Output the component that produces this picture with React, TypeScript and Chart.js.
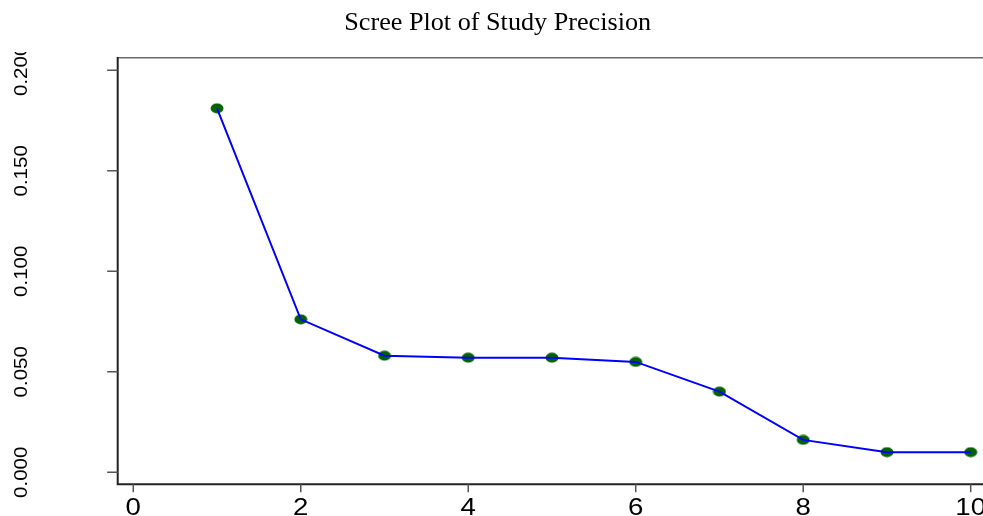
import React, { useEffect, useRef } from "react";
import { Chart, registerables } from "chart.js";

Chart.register(...registerables);

const titleText = "Scree Plot of Study Precision";
const components = [1, 2, 3, 4, 5, 6, 7, 8, 9, 10];
const precisionValues = [0.1811, 0.0761, 0.058, 0.057, 0.057, 0.0549, 0.0401, 0.0161, 0.01, 0.01];
const xTicks = [0, 2, 4, 6, 8, 10];
const xTickLabels = ["0", "2", "4", "6", "8", "10"];
const yTicks = [0, 0.05, 0.1, 0.15, 0.2];
const yTickLabels = ["0.000", "0.050", "0.100", "0.150", "0.200"];

function makeMarker(): HTMLCanvasElement {
  const c = document.createElement("canvas");
  c.width = 14;
  c.height = 11;
  const g = c.getContext("2d")!;
  g.fillStyle = "#006400";
  g.beginPath();
  g.ellipse(7, 5.5, 6.4, 5, 0, 0, Math.PI * 2);
  g.fill();
  return c;
}

const axesPlugin = {
  id: "statalikeAxes",
  afterDraw(chart: any) {
    const { ctx, chartArea, scales } = chart;
    const xs = scales.x;
    const ys = scales.y;
    ctx.save();
    // top border
    ctx.strokeStyle = "#6a6a6a";
    ctx.lineWidth = 1.5;
    ctx.beginPath();
    ctx.moveTo(chartArea.left, chartArea.top);
    ctx.lineTo(chart.width, chartArea.top);
    ctx.stroke();
    // left & bottom axes
    ctx.strokeStyle = "#222222";
    ctx.lineWidth = 2;
    ctx.beginPath();
    ctx.moveTo(chartArea.left, chartArea.top - 0.75);
    ctx.lineTo(chartArea.left, chartArea.bottom);
    ctx.lineTo(chart.width, chartArea.bottom);
    ctx.stroke();
    // ticks
    ctx.strokeStyle = "#555555";
    ctx.lineWidth = 1.5;
    ctx.beginPath();
    yTicks.forEach((v) => {
      const py = ys.getPixelForValue(v);
      ctx.moveTo(chartArea.left - 10.5, py);
      ctx.lineTo(chartArea.left, py);
    });
    xTicks.forEach((v) => {
      const px = xs.getPixelForValue(v);
      ctx.moveTo(px, chartArea.bottom);
      ctx.lineTo(px, chartArea.bottom + 8);
    });
    ctx.stroke();
    // y labels (rotated)
    ctx.save();
    ctx.beginPath();
    ctx.rect(0, 52, chartArea.left - 12, chart.height - 52);
    ctx.clip();
    ctx.fillStyle = "#000000";
    ctx.font = "19px 'Liberation Sans', Arial, sans-serif";
    ctx.textAlign = "center";
    ctx.textBaseline = "alphabetic";
    yTicks.forEach((v, i) => {
      const py = ys.getPixelForValue(v);
      ctx.save();
      ctx.translate(26.7, py);
      ctx.rotate(-Math.PI / 2);
      ctx.scale(1.08, 1);
      ctx.fillText(yTickLabels[i], 0, 0);
      ctx.restore();
    });
    ctx.restore();
    // x labels
    ctx.fillStyle = "#000000";
    ctx.font = "23px 'Liberation Sans', Arial, sans-serif";
    ctx.textAlign = "center";
    ctx.textBaseline = "alphabetic";
    xTicks.forEach((v, i) => {
      const px = xs.getPixelForValue(v);
      ctx.save();
      ctx.translate(px, 515);
      ctx.scale(1.2, 1);
      ctx.fillText(xTickLabels[i], 0, 0);
      ctx.restore();
    });
    // title
    ctx.font = "26.2px 'Liberation Serif', 'Times New Roman', serif";
    ctx.textAlign = "center";
    ctx.fillText(titleText, 497.7, 29.5);
    ctx.restore();
  },
};

export default function App() {
  const canvasRef = useRef<HTMLCanvasElement | null>(null);

  useEffect(() => {
    if (!canvasRef.current) return;
    const points = components.map((c, i) => ({ x: c, y: precisionValues[i] }));
    const marker = makeMarker();
    const chart = new Chart(canvasRef.current, {
      type: "scatter",
      data: {
        datasets: [
          {
            data: points,
            showLine: true,
            borderColor: "#0000ff",
            borderWidth: 2,
            pointRadius: 0,
            pointHoverRadius: 0,
            order: 0,
          },
          {
            data: points,
            showLine: false,
            pointStyle: marker as any,
            pointRadius: 6,
            pointHoverRadius: 6,
            order: 1,
          },
        ],
      },
      options: {
        animation: false,
        responsive: true,
        maintainAspectRatio: false,
        events: [],
        layout: {
          autoPadding: false,
          padding: { left: 117.7, top: 57.7, right: 0, bottom: 31.7 },
        },
        scales: {
          x: { type: "linear", display: false, min: -0.186, max: 10.147 },
          y: { type: "linear", display: false, min: -0.006, max: 0.2063 },
        },
        plugins: {
          legend: { display: false },
          tooltip: { enabled: false },
          title: { display: false },
        },
      },
      plugins: [axesPlugin],
    });
    return () => chart.destroy();
  }, []);

  return (
    <div
      style={{
        position: "fixed",
        left: 0,
        top: 0,
        width: 983,
        height: 516,
        background: "#ffffff",
      }}
    >
      <canvas ref={canvasRef} />
    </div>
  );
}
